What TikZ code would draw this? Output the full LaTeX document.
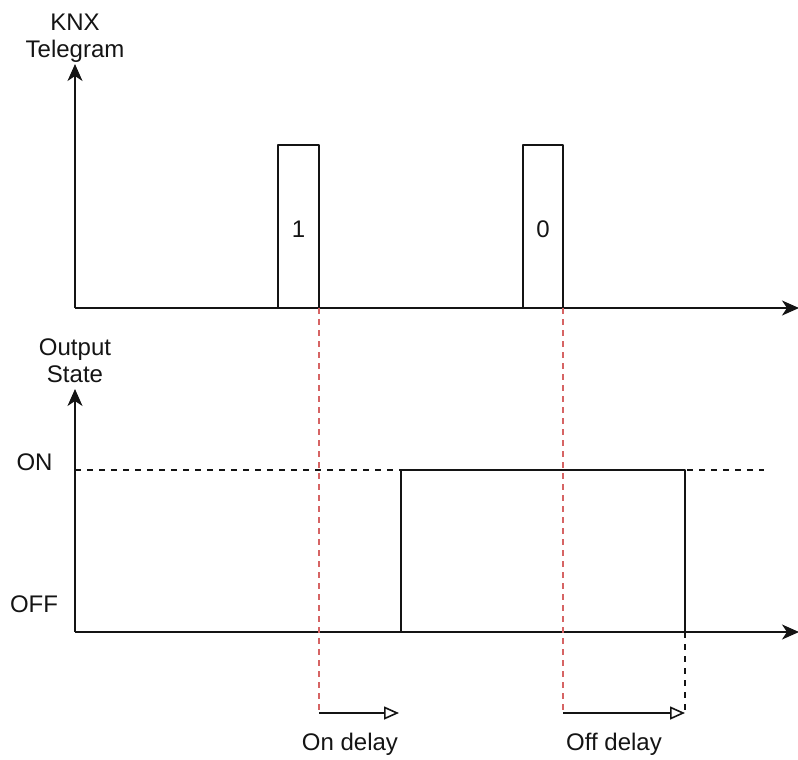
\documentclass[tikz,border=0pt]{standalone}
\usepackage{fontspec}
\setmainfont{Liberation Sans}
\usetikzlibrary{arrows.meta}
\definecolor{dashred}{RGB}{214,100,100}
\definecolor{ink}{RGB}{20,20,20}
\begin{document}
\begin{tikzpicture}[x=1pt,y=-1pt,line width=1.9pt,draw=ink,
  lbl/.style={font=\fontsize{24}{27}\selectfont,inner sep=0pt,align=center,text=ink},
  axisarrow/.style={-{Stealth[length=17pt,width=15pt,inset=5pt]}},
  reddash/.style={draw=dashred,line width=1.5pt,dash pattern=on 6pt off 5pt},
  blackdash/.style={draw=ink,line width=1.6pt,dash pattern=on 6pt off 6pt},
  delayarrow/.style={line width=1.6pt,-{Triangle[open,length=15pt,width=13pt,line width=1.6pt]}}]
\useasboundingbox (0,0) rectangle (798,760);
% top chart
\coordinate (o1) at (75,308);
\coordinate (y1) at (75,64);
\coordinate (x1) at (799,308);
\draw[axisarrow] (o1) -- (y1);
\draw[axisarrow] (o1) -- (x1);
\coordinate (p1a) at (278,308);
\coordinate (p1b) at (319,308);
\coordinate (p0a) at (523,308);
\coordinate (p0b) at (563,308);
\draw[line join=round] (p1a) -- (278,145) -- (319,145) -- (p1b);
\draw[line join=round] (p0a) -- (523,145) -- (563,145) -- (p0b);
\node[lbl] (one) at (298.5,229) {1};
\node[lbl] (zero) at (543,229) {0};
\node[lbl] (knx) at (75,38) {KNX\\Telegram};
% bottom chart
\coordinate (o2) at (75,632);
\coordinate (y2) at (75,389);
\coordinate (x2) at (799,632);
\draw[axisarrow] (o2) -- (y2);
\draw[axisarrow] (o2) -- (x2);
\node[lbl] (out) at (75,361) {Output\\State};
\node[lbl] (on) at (34.5,462) {ON};
\node[lbl] (off) at (34,604.5) {OFF};
\coordinate (onA) at (75,470);
\coordinate (onB) at (764,470);
\draw[blackdash] (onA) -- (onB);
\coordinate (s1) at (401,632);
\coordinate (s2) at (685,632);
\draw[line join=round] (s1) -- (401,470) -- (685,470) -- (s2);
% delays
\coordinate (d1) at (319,713);
\coordinate (d1e) at (399,713);
\coordinate (d2) at (563,713);
\coordinate (d2e) at (685,713);
\draw[reddash] (p1b) -- (d1);
\draw[reddash] (p0b) -- (d2);
\draw[blackdash] (s2) -- (d2e);
\draw[delayarrow] (d1) -- (d1e);
\draw[delayarrow] (d2) -- (d2e);
\node[lbl] (ond) at (350,744) {On delay};
\node[lbl] (offd) at (614,744) {Off delay};
\end{tikzpicture}
\end{document}
